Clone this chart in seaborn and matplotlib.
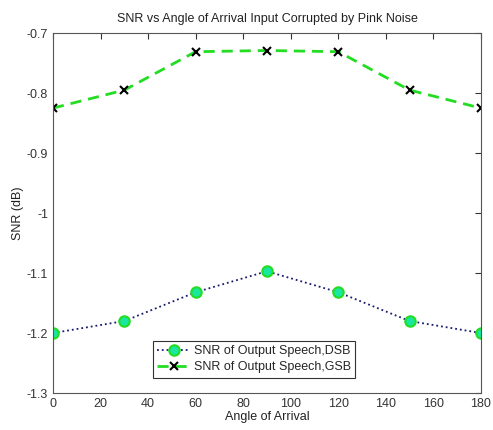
import matplotlib
matplotlib.use("Agg")
import matplotlib.pyplot as plt
import seaborn as sns
import pandas as pd

angles = [0, 30, 60, 90, 120, 150, 180]
snr_dsb = [-1.2, -1.18, -1.132, -1.097, -1.132, -1.18, -1.2]
snr_gsb = [-0.825, -0.795, -0.731, -0.729, -0.731, -0.795, -0.825]
label_dsb = "SNR of Output Speech,DSB"
label_gsb = "SNR of Output Speech,GSB"

sns.set_style("white")
plt.rcParams["font.family"] = ["Liberation Sans", "DejaVu Sans"]

fig = plt.figure(figsize=(4.93, 4.30), dpi=100)
ax = fig.add_axes([0.1075, 0.086, 0.868, 0.837])

df_dsb = pd.DataFrame({"angle": angles, "snr": snr_dsb})
df_gsb = pd.DataFrame({"angle": angles, "snr": snr_gsb})

sns.lineplot(data=df_dsb, x="angle", y="snr", ax=ax, color="#1a1a6e", linestyle=":",
             linewidth=1.3, marker="o", markersize=7.5, markerfacecolor="#19e6a0",
             markeredgecolor="#22dd22", markeredgewidth=1.5, label=label_dsb)
sns.lineplot(data=df_gsb, x="angle", y="snr", ax=ax, color="#22dd22", linestyle=(0, (4, 2.5)),
             linewidth=2.0, marker="x", markersize=6, markeredgecolor="black",
             markeredgewidth=1.5, label=label_gsb)

ax.set_xlim(0, 180)
ax.set_ylim(-1.3, -0.7)
ax.set_xticks(range(0, 181, 20))
ax.set_yticks([-1.3, -1.2, -1.1, -1.0, -0.9, -0.8, -0.7])
ax.set_yticklabels(["-1.3", "-1.2", "-1.1", "-1", "-0.9", "-0.8", "-0.7"])
ax.tick_params(direction="in", top=True, right=True, length=4, width=0.8,
               labelsize=9, colors="#333333", labelcolor="#333333")
for s in ax.spines.values():
    s.set_color("#555555")
    s.set_linewidth(0.8)
ax.set_xlabel("Angle of Arrival", fontsize=9, color="#222222", labelpad=1)
ax.set_ylabel("SNR (dB)", fontsize=9, color="#222222", labelpad=2)
ax.set_title("SNR vs Angle of Arrival Input Corrupted by Pink Noise", fontsize=9,
             color="#222222", pad=8)

leg = ax.legend(loc="lower center", bbox_to_anchor=(0.47, 0.025), fontsize=9,
                frameon=True, fancybox=False, framealpha=1, borderpad=0.35,
                handlelength=2.6, handletextpad=0.3, labelspacing=0.35)
leg.get_frame().set_edgecolor("#333333")
leg.get_frame().set_linewidth(0.8)

fig.savefig("out.png", dpi=100)
